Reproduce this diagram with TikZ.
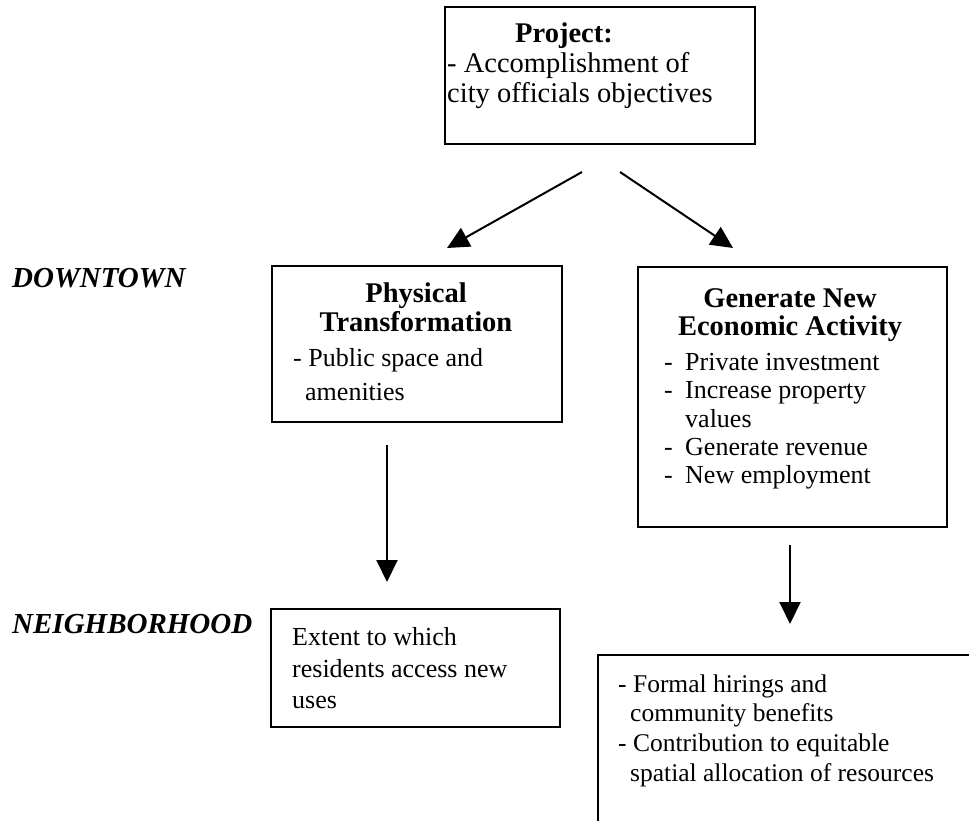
\documentclass[tikz,border=0pt]{standalone}
\usepackage{fontspec}
\setmainfont{Liberation Serif}
\usetikzlibrary{arrows.meta}
\newcommand{\hdf}{\fontsize{28.5}{30}\selectfont\bfseries}
\newcommand{\pjf}{\fontsize{28.5}{30}\selectfont}
\newcommand{\bdf}{\fontsize{26}{29}\selectfont}
\newcommand{\brf}{\fontsize{25.5}{29}\selectfont}
\newcommand{\lbf}{\fontsize{29}{32}\selectfont\bfseries\itshape}
\begin{document}
\begin{tikzpicture}[x=1pt,y=-1pt,
  box/.style={draw=black,line width=2pt,inner sep=0pt,rectangle},
  txt/.style={inner sep=0pt,anchor=base west},
  ctxt/.style={inner sep=0pt,anchor=base},
  arr/.style={line width=2pt,-{Triangle[width=21pt,length=22pt]}}]
\useasboundingbox[fill=white] (0,0) rectangle (969,821);
% boxes
\node[box,minimum width=310pt,minimum height=137pt] (proj) at (600,75.5) {};
\node[box,minimum width=290pt,minimum height=156pt] (phys) at (417,344) {};
\node[box,minimum width=309pt,minimum height=260pt] (econ) at (792.5,397) {};
\node[box,minimum width=289pt,minimum height=118pt] (ext) at (415.5,668) {};
\coordinate (brtl) at (598,655);
\coordinate (brbl) at (598,822);
\coordinate (brtr) at (970,655);
\draw[line width=2pt] (brbl) -- (brtl) -- (brtr);
% project text
\node[txt] (pj1) at (515,43) {\hdf Project:};
\node[txt] (pj2) at (447,73) {\pjf - Accomplishment of};
\node[txt] (pj3) at (447,103) {\pjf city officials objectives};
% physical
\node[ctxt] (ph1) at (416,302) {\hdf Physical};
\node[ctxt] (ph2) at (416,331) {\hdf Transformation};
\node[txt] (ph3) at (293,366) {\bdf - Public space and};
\node[txt] (ph4) at (305,400) {\bdf amenities};
% economic
\node[ctxt] (ec1) at (790,307) {\hdf Generate New};
\node[ctxt] (ec2) at (790,335) {\hdf Economic Activity};
\node[txt] (ec3d) at (664,370) {\bdf -};
\node[txt] (ec3) at (685,370) {\bdf Private investment};
\node[txt] (ec4d) at (664,398) {\bdf -};
\node[txt] (ec4) at (685,398) {\bdf Increase property};
\node[txt] (ec5) at (685,427) {\bdf values};
\node[txt] (ec6d) at (664,455) {\bdf -};
\node[txt] (ec6) at (685,455) {\bdf Generate revenue};
\node[txt] (ec7d) at (664,483) {\bdf -};
\node[txt] (ec7) at (685,483) {\bdf New employment};
% extent
\node[txt] (ex1) at (292,645) {\bdf Extent to which};
\node[txt] (ex2) at (292,677) {\bdf residents access new};
\node[txt] (ex3) at (292,708) {\bdf uses};
% bottom right
\node[txt] (br1) at (618,692) {\brf - Formal hirings and};
\node[txt] (br2) at (630,721) {\brf community benefits};
\node[txt] (br3) at (618,751) {\brf - Contribution to equitable};
\node[txt] (br4) at (630,781) {\brf spatial allocation of resources};
% labels
\node[txt] (dt) at (12,287) {\lbf DOWNTOWN};
\node[txt] (nb) at (12,633) {\lbf NEIGHBORHOOD};
% arrows
\coordinate (a1s) at (582,172);
\coordinate (a1e) at (447,248);
\coordinate (a2s) at (620,172);
\coordinate (a2e) at (733,248);
\coordinate (a3s) at (387,445);
\coordinate (a3e) at (387,582);
\coordinate (a4s) at (790,545);
\coordinate (a4e) at (790,624);
\draw[arr] (a1s) -- (a1e);
\draw[arr] (a2s) -- (a2e);
\draw[arr] (a3s) -- (a3e);
\draw[arr] (a4s) -- (a4e);
\end{tikzpicture}
\end{document}
